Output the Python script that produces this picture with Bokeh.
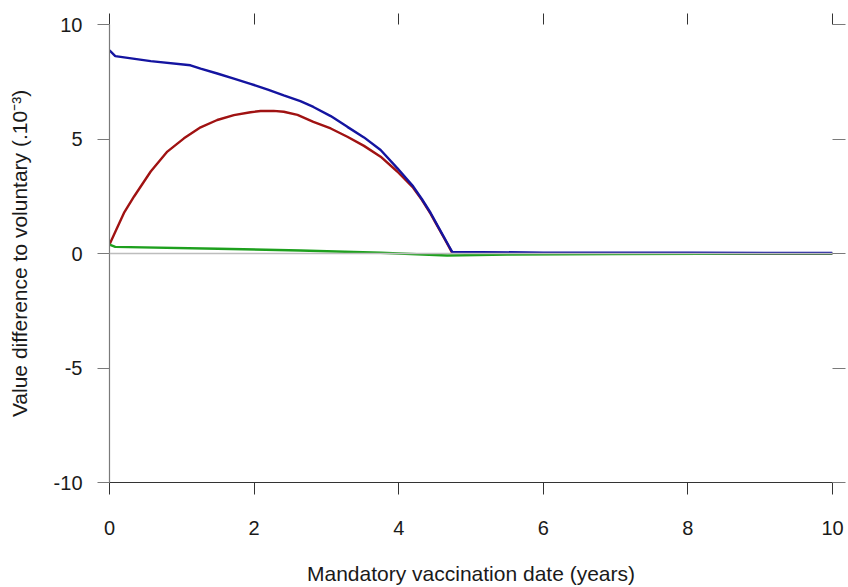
from bokeh.plotting import figure
from bokeh.models import LinearAxis, Range1d, FixedTicker, Span
from bokeh.embed import file_html
from bokeh.resources import INLINE

# --- data ---
x_blue = [0.0, 0.08, 0.57, 1.12, 1.26, 1.49, 1.72, 1.95, 2.19, 2.41, 2.64, 2.82, 3.06, 3.29,
          3.52, 3.75, 3.98, 4.20, 4.32, 4.44, 4.53, 4.62, 4.69, 4.74, 6.0, 8.0, 10.0]
y_blue = [8.87, 8.62, 8.40, 8.22, 8.07, 7.86, 7.64, 7.41, 7.16, 6.91, 6.65, 6.40, 6.00, 5.53,
          5.07, 4.52, 3.73, 2.93, 2.38, 1.78, 1.26, 0.75, 0.35, 0.07, 0.04, 0.03, 0.02]

x_red = [0.0, 0.106, 0.2, 0.34, 0.57, 0.80, 1.03, 1.26, 1.49, 1.72, 1.95, 2.09, 2.27, 2.41,
         2.60, 2.82, 3.06, 3.29, 3.52, 3.75, 3.98, 4.20, 4.32, 4.44, 4.53, 4.62, 4.69, 4.74,
         6.0, 8.0, 10.0]
y_red = [0.39, 1.12, 1.77, 2.49, 3.58, 4.45, 5.03, 5.51, 5.83, 6.04, 6.17, 6.22, 6.23, 6.19,
         6.05, 5.75, 5.46, 5.10, 4.70, 4.23, 3.58, 2.87, 2.34, 1.74, 1.23, 0.72, 0.32, 0.03,
         0.0, -0.01, -0.01]

x_green = [0.0, 0.08, 1.5, 2.64, 3.75, 4.67, 5.5, 7.0, 8.2, 10.0]
y_green = [0.39, 0.29, 0.21, 0.13, 0.03, -0.09, -0.05, -0.02, -0.01, 0.0]

x_ticks = [0, 2, 4, 6, 8, 10]
y_ticks = [-10, -5, 0, 5, 10]
y_tick_labels = {-10: "-10", -5: "-5", 0: "0", 5: "5", 10: "10"}

x_title = "Mandatory vaccination date (years)"
y_title = "Value difference to voluntary (.10\u207b\u00b3)"

FONT = "Liberation Sans"

p = figure(width=848, height=587, output_backend="svg", toolbar_location=None,
           x_range=Range1d(0, 10), y_range=Range1d(-10, 10),
           min_border_left=109, min_border_right=16, min_border_top=24, min_border_bottom=103,
           x_axis_location=None, y_axis_location=None)
p.outline_line_color = None
p.xgrid.visible = False
p.ygrid.visible = False
p.background_fill_color = "white"
p.border_fill_color = "white"


def style(ax, color, line_color, tick_out, labels=True):
    ax.major_tick_in = 0
    ax.major_tick_out = tick_out
    ax.minor_tick_in = 0
    ax.minor_tick_out = 0
    ax.major_tick_line_color = color
    ax.major_tick_line_width = 1
    ax.axis_line_color = line_color
    ax.axis_line_width = 1.2
    if labels:
        ax.major_label_text_font = FONT
        ax.major_label_text_font_size = "20px"
        ax.major_label_text_color = "#1a1a1a"
        ax.major_label_text_line_height = 1.0
        ax.axis_label_text_font = FONT
        ax.axis_label_text_font_size = "21px"
        ax.axis_label_text_font_style = "normal"
        ax.axis_label_text_color = "#1a1a1a"
        ax.axis_label_text_line_height = 1.0
    else:
        ax.major_label_text_font_size = "1px"
        ax.major_label_standoff = 0
        ax.axis_label_standoff = 0


bottom = LinearAxis(ticker=FixedTicker(ticks=x_ticks), axis_label=x_title)
style(bottom, "#333333", "#333333", 12)
bottom.major_label_standoff = 26
bottom.axis_label_standoff = 24
p.add_layout(bottom, "below")

left = LinearAxis(ticker=FixedTicker(ticks=y_ticks), axis_label=y_title)
style(left, "#7a7a7a", "#7a7a7a", 12)
left.major_label_overrides = y_tick_labels
left.major_label_standoff = 15
left.axis_label_standoff = 20
left.major_label_orientation = "horizontal"
p.add_layout(left, "left")

top = LinearAxis(ticker=FixedTicker(ticks=x_ticks))
style(top, "#333333", None, 11, labels=False)
top.major_label_overrides = {t: "" for t in x_ticks}
p.add_layout(top, "above")

right = LinearAxis(ticker=FixedTicker(ticks=y_ticks))
style(right, "#7a7a7a", None, 13, labels=False)
right.major_label_overrides = {t: "" for t in y_ticks}
p.add_layout(right, "right")

p.add_layout(Span(location=0, dimension="width", line_color="#bdbdbd", line_width=1.5))

p.line(x_red, y_red, line_color="#a01212", line_width=2.4)
p.line(x_green, y_green, line_color="#1ea01e", line_width=2.4)
p.line(x_blue, y_blue, line_color="#1414a0", line_width=2.4)

open("out.html", "w").write(file_html(p, INLINE))
